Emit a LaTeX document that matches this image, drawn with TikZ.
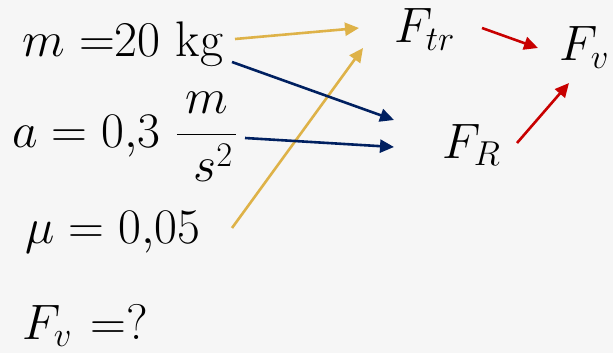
\documentclass[tikz,border=0pt]{standalone}
\usetikzlibrary{arrows.meta}
\definecolor{gold}{RGB}{222,178,72}
\definecolor{navy}{RGB}{0,32,96}
\definecolor{dred}{RGB}{200,0,0}
\definecolor{bg}{RGB}{246,246,246}
\begin{document}
\begin{tikzpicture}[x=0.5pt,y=-0.5pt,
  txt/.style={inner sep=0pt,anchor=base west,font=\fontsize{25}{30}\selectfont},
  arr/.style={line width=1.3pt,-{Triangle[length=7pt,width=6.5pt]}}]
\fill[bg] (0,0) rectangle (613,353);
\useasboundingbox (0,0) rectangle (613,353);
% given quantities
\node[txt] (m) at (22,56) {$m$\hspace{7pt}$=$20 kg};
\node[txt] (a) at (12,147) {$\displaystyle a = 0{,}3\;\frac{\,m\,}{\;s^2}$};
\node[txt] (mu) at (25,243) {$\mu = 0{,}05$};
\node[txt] (q) at (22,339) {$F_v$\hspace{9pt}$=$?};
% forces
\node[txt] (Ftr) at (394,43) {$F_{tr}$};
\node[txt] (FR) at (442,158) {$F_R$};
\node[txt] (Fv) at (559,61) {$F_v$};
% arrow end points
\coordinate (m1) at (235,39);
\coordinate (m2) at (232,62);
\coordinate (a1) at (245,138);
\coordinate (mu1) at (232,228);
\coordinate (tr1) at (359,28);
\coordinate (tr2) at (363,48);
\coordinate (R1) at (394,120);
\coordinate (R2) at (394,147);
\coordinate (tro) at (482,28);
\coordinate (vi1) at (538,48);
\coordinate (Ro) at (517,143);
\coordinate (vi2) at (569,83);
\draw[arr,gold] (m1) -- (tr1);
\draw[arr,gold] (mu1) -- (tr2);
\draw[arr,navy] (m2) -- (R1);
\draw[arr,navy] (a1) -- (R2);
\draw[arr,dred] (tro) -- (vi1);
\draw[arr,dred] (Ro) -- (vi2);
\end{tikzpicture}
\end{document}
